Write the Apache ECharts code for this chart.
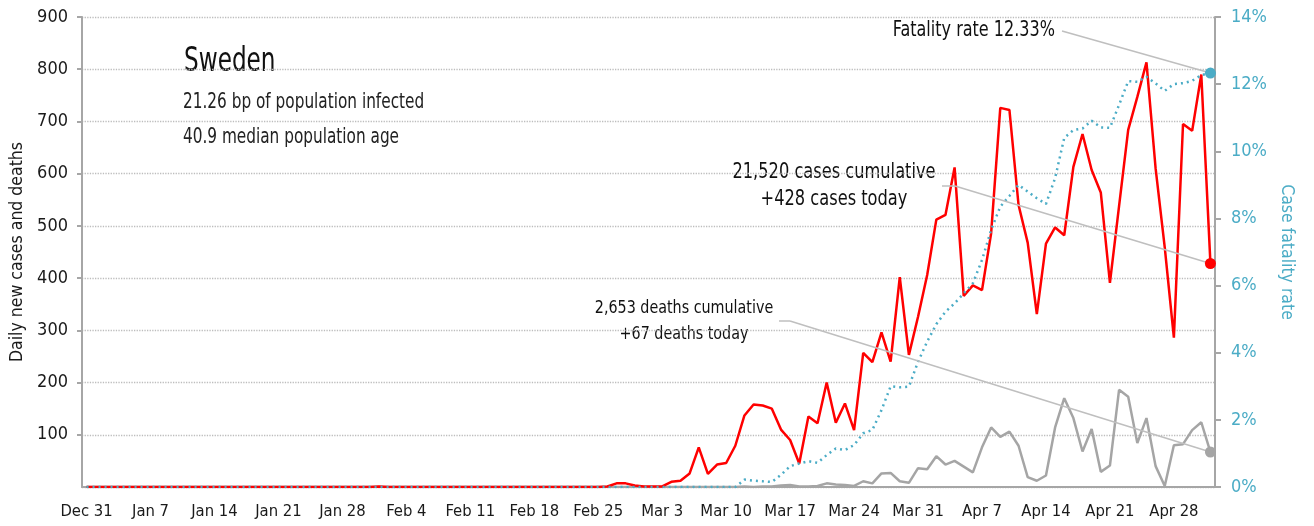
<!DOCTYPE html>
<html>
<head>
<meta charset="utf-8">
<script src="https://cdn.jsdelivr.net/npm/echarts@6/dist/echarts.min.js"></script>
<style>
  html, body { margin: 0; padding: 0; background: #fff; }
  #chart { width: 1314px; height: 526px; }
</style>
</head>
<body>
<div id="chart"></div>
<script>
// daily values, Dec 31 .. May 2 (one entry per day)
const cases = [
  0, 0, 0, 0, 0, 0, 0, 0, 0, 0,
  0, 0, 0, 0, 0, 0, 0, 0, 0, 0,
  0, 0, 0, 0, 0, 0, 0, 0, 0, 0,
  0, 0, 1, 0, 0, 0, 0, 0, 0, 0,
  0, 0, 0, 0, 0, 0, 0, 0, 0, 0,
  0, 0, 0, 0, 0, 0, 0, 1, 7, 7,
  3, 1, 1, 1, 10, 12, 26, 76, 25, 43,
  46, 79, 137, 158, 156, 150, 110, 90, 45, 135,
  122, 200, 123, 160, 109, 257, 239, 296, 240, 402,
  253, 326, 406, 512, 521, 612, 366, 386, 377, 486,
  726, 722, 540, 468, 331, 466, 497, 482, 613, 676,
  607, 564, 391, 538, 684, 747, 813, 610, 459, 286,
  695, 682, 790, 428
]
const deaths = [
  0, 0, 0, 0, 0, 0, 0, 0, 0, 0,
  0, 0, 0, 0, 0, 0, 0, 0, 0, 0,
  0, 0, 0, 0, 0, 0, 0, 0, 0, 0,
  0, 0, 0, 0, 0, 0, 0, 0, 0, 0,
  0, 0, 0, 0, 0, 0, 0, 0, 0, 0,
  0, 0, 0, 0, 0, 0, 0, 0, 0, 0,
  0, 0, 0, 0, 0, 0, 0, 0, 0, 0,
  0, 0, 1, 0, 1, 1, 3, 4, 1, 1,
  2, 7, 5, 4, 2, 11, 7, 26, 27, 11,
  8, 36, 34, 59, 43, 50, 39, 28, 76, 114,
  96, 106, 79, 19, 12, 22, 114, 170, 132, 68,
  111, 29, 41, 186, 173, 84, 132, 40, 2, 80,
  82, 109, 124, 67
]
// case fatality rate, percent
const cfr = [
  0, 0, 0, 0, 0, 0, 0, 0, 0, 0,
  0, 0, 0, 0, 0, 0, 0, 0, 0, 0,
  0, 0, 0, 0, 0, 0, 0, 0, 0, 0,
  0, 0, 0, 0, 0, 0, 0, 0, 0, 0,
  0, 0, 0, 0, 0, 0, 0, 0, 0, 0,
  0, 0, 0, 0, 0, 0, 0, 0, 0, 0,
  0, 0, 0, 0, 0, 0, 0, 0, 0, 0,
  0, 0, 0.22, 0.19, 0.17, 0.15, 0.36, 0.62, 0.70, 0.77,
  0.72, 0.95, 1.15, 1.10, 1.25, 1.60, 1.70, 2.29, 3.00, 2.97,
  2.99, 3.73, 4.33, 4.85, 5.22, 5.47, 5.77, 6.07, 6.76, 7.66,
  8.35, 8.67, 9.00, 8.80, 8.60, 8.43, 9.20, 10.40, 10.63, 10.68,
  10.91, 10.71, 10.70, 11.38, 12.09, 12.07, 12.22, 12.02, 11.80, 12.00,
  12.03, 12.10, 12.27, 12.33
]

const monthNames = ['Jan', 'Feb', 'Mar', 'Apr', 'May', 'Jun', 'Jul', 'Aug', 'Sep', 'Oct', 'Nov', 'Dec']
const categories = cases.map((v, i) => {
  const d = new Date(Date.UTC(2019, 11, 31 + i))
  return monthNames[d.getUTCMonth()] + ' ' + d.getUTCDate()
})

const FONT = '"DejaVu Sans Condensed", "Liberation Sans Narrow", Roboto, sans-serif'
const last = categories.length - 1
const leader = { color: '#bfbfbf', width: 1.5, type: 'solid' }

// annotation text, squeezed horizontally to look like a condensed face
const note = (text, x, y, size, sx, align, fill) => ({
  type: 'text',
  x: x,
  y: y,
  scaleX: sx,
  style: { text: text, fontSize: size, fontFamily: FONT, fill: fill || '#111', align: align || 'left', verticalAlign: 'middle' }
})

const chart = echarts.init(document.getElementById('chart'))
const option = {
  animation: false,
  grid: { left: 82, right: 99, top: 17, bottom: 39, outerBoundsMode: 'none', containLabel: false },
  textStyle: { fontFamily: FONT },
  xAxis: {
    type: 'category',
    data: categories,
    boundaryGap: true,
    axisLine: { lineStyle: { color: '#a6a6a6', width: 2 } },
    axisTick: { interval: 6, length: 6, lineStyle: { color: '#a6a6a6', width: 2 } },
    axisLabel: { interval: 6, margin: 16, fontSize: 16.5, color: '#1a1a1a', fontFamily: FONT },
    splitLine: { show: false }
  },
  yAxis: [
    {
      type: 'value',
      min: 0,
      max: 900,
      interval: 100,
      name: 'Daily new cases and deaths',
      nameLocation: 'middle',
      nameGap: 56,
      nameTextStyle: { fontSize: 17.5, color: '#1a1a1a', fontFamily: FONT },
      axisLine: { show: true, lineStyle: { color: '#a6a6a6', width: 2 } },
      axisTick: { show: true, length: 5, lineStyle: { color: '#a6a6a6', width: 2 } },
      axisLabel: { showMinLabel: false, margin: 14, fontSize: 18, color: '#1a1a1a', fontFamily: FONT },
      splitLine: { lineStyle: { color: '#bdbdbd', type: 'dotted', width: 1.3 } }
    },
    {
      type: 'value',
      position: 'right',
      min: 0,
      max: 14,
      interval: 2,
      name: 'Case fatality rate',
      nameLocation: 'middle',
      nameRotate: -90,
      nameGap: 59,
      nameTextStyle: { fontSize: 17.5, color: '#4bacc6', fontFamily: FONT },
      axisLine: { show: true, lineStyle: { color: '#a6a6a6', width: 2 } },
      axisTick: { show: true, length: 6, lineStyle: { color: '#a6a6a6', width: 2 } },
      axisLabel: { formatter: '{value}%', margin: 16, fontSize: 18, color: '#4bacc6', fontFamily: FONT },
      splitLine: { show: false }
    }
  ],
  series: [
    {
      name: 'Cases',
      type: 'line',
      data: cases,
      showSymbol: false,
      lineStyle: { color: '#ff0000', width: 2.5 },
      itemStyle: { color: '#ff0000' },
      z: 3,
      markPoint: {
        symbol: 'circle',
        symbolSize: 11,
        label: { show: false },
        itemStyle: { color: '#ff0000' },
        data: [{ coord: [last, cases[last]] }]
      },
      markLine: {
        silent: true,
        symbol: ['none', 'none'],
        label: { show: false },
        lineStyle: leader,
        data: [
          [{ x: 942, y: 186 }, { x: 955, y: 186 }],
          [{ x: 955, y: 186 }, { coord: [last, cases[last]] }]
        ]
      }
    },
    {
      name: 'Deaths',
      type: 'line',
      data: deaths,
      showSymbol: false,
      lineStyle: { color: '#a5a5a5', width: 2.5 },
      itemStyle: { color: '#a5a5a5' },
      z: 2,
      markPoint: {
        symbol: 'circle',
        symbolSize: 11,
        label: { show: false },
        itemStyle: { color: '#a5a5a5' },
        data: [{ coord: [last, deaths[last]] }]
      },
      markLine: {
        silent: true,
        symbol: ['none', 'none'],
        label: { show: false },
        lineStyle: leader,
        data: [
          [{ x: 779, y: 321 }, { x: 790, y: 321 }],
          [{ x: 790, y: 321 }, { coord: [last, deaths[last]] }]
        ]
      }
    },
    {
      name: 'Case fatality rate',
      type: 'line',
      yAxisIndex: 1,
      data: cfr,
      showSymbol: false,
      lineStyle: { color: '#4bacc6', width: 2.5, type: [2, 4] },
      itemStyle: { color: '#4bacc6' },
      z: 4,
      markPoint: {
        symbol: 'circle',
        symbolSize: 11,
        label: { show: false },
        itemStyle: { color: '#4bacc6' },
        data: [{ coord: [last, cfr[last]] }]
      },
      markLine: {
        silent: true,
        symbol: ['none', 'none'],
        label: { show: false },
        lineStyle: leader,
        data: [
          [{ x: 1062, y: 31 }, { coord: [last, cfr[last]] }]
        ]
      }
    }
  ],
  graphic: [
    note('Sweden', 184, 62, 33, 0.78),
    note('21.26 bp of population infected', 183, 103, 20.5, 0.83, 'left', '#222'),
    note('40.9 median population age', 183, 138, 20.5, 0.83, 'left', '#222'),
    note('Fatality rate 12.33%', 1055, 31, 20.5, 0.87, 'right'),
    note('21,520 cases cumulative', 834, 173, 20.5, 0.88, 'center'),
    note('+428 cases today', 834, 200, 20.5, 0.88, 'center'),
    note('2,653 deaths cumulative', 684, 308, 18.5, 0.86, 'center'),
    note('+67 deaths today', 684, 334, 18.5, 0.86, 'center')
  ]
}
chart.setOption(option)
</script>
</body>
</html>
